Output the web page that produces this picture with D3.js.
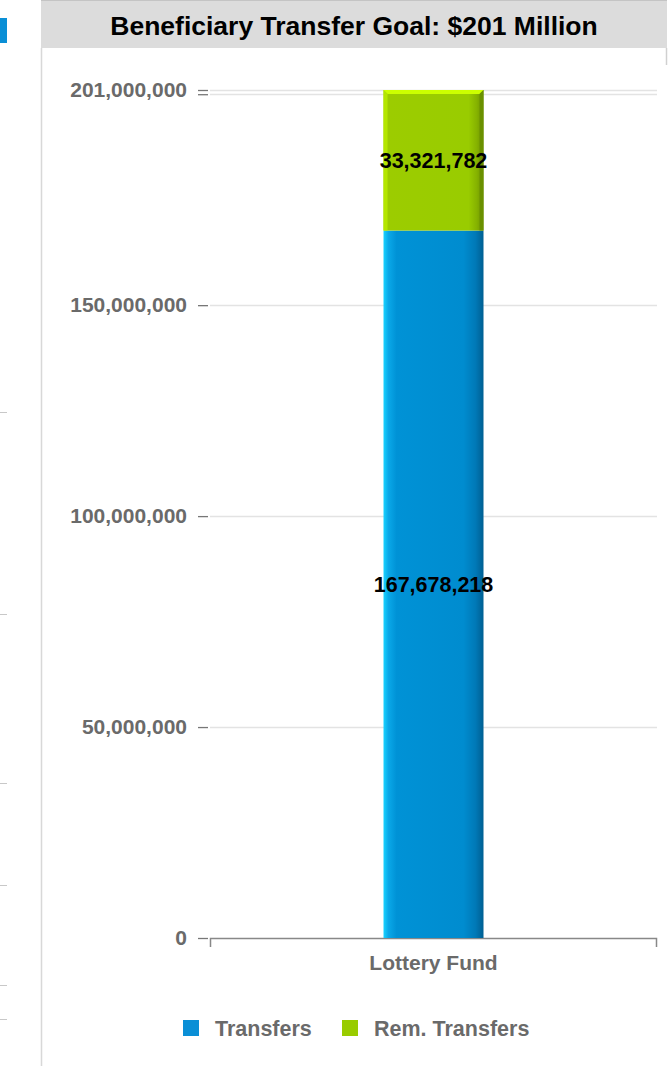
<!DOCTYPE html>
<html>
<head>
<meta charset="utf-8">
<script src="https://cdn.jsdelivr.net/npm/d3@7/dist/d3.min.js"></script>
<style>
  html, body { margin: 0; padding: 0; background: #fff; }
  svg { display: block; font-family: "Liberation Sans", Arial, sans-serif; }
</style>
</head>
<body>
<svg id="chart" width="670" height="1067"></svg>
<script>
// Data
const categories = ["Lottery Fund"];
const seriesNames = ["Transfers", "Rem. Transfers"];
const transfers = [167678218];
const remTransfers = [33321782];
const goal = 201000000;
const tickValues = [0, 50000000, 100000000, 150000000, 200000000, 201000000];
const labeledTicks = [0, 50000000, 100000000, 150000000, 201000000];
const titleText = "Beneficiary Transfer Goal: $201 Million";

const svg = d3.select("#chart");
const defs = svg.append("defs");
const FONT = "Liberation Sans, Arial, sans-serif";

// Panel frame & title bar
svg.append("rect").attr("x", 41).attr("y", 0).attr("width", 626).attr("height", 48).attr("fill", "#dcdcdc");
svg.append("line").attr("x1", 41).attr("x2", 667).attr("y1", 0.5).attr("y2", 0.5).attr("stroke", "#c4c4c4");
svg.append("line").attr("x1", 41.5).attr("x2", 41.5).attr("y1", 48).attr("y2", 1066).attr("stroke", "#d8d8d8").attr("stroke-width", 1.5);
svg.append("line").attr("x1", 666.5).attr("x2", 666.5).attr("y1", 48).attr("y2", 65).attr("stroke", "#d0d0d0").attr("stroke-width", 1.5);
svg.append("text").attr("x", 354).attr("y", 35).attr("text-anchor", "middle")
  .attr("font-size", 26.5).attr("font-weight", "bold").attr("fill", "#000").text(titleText);

// Neighbouring panel edge on the left
svg.append("rect").attr("x", 0).attr("y", 18).attr("width", 7).attr("height", 25).attr("fill", "#0a8fd6");
[412, 614, 783, 885, 985, 1019].forEach(y => {
  svg.append("line").attr("x1", 0).attr("x2", 7).attr("y1", y + 0.5).attr("y2", y + 0.5).attr("stroke", "#c8c8c8");
});

// Scales
const y = d3.scaleLinear().domain([0, goal]).range([938, 90]);
const x = d3.scaleBand().domain(categories).range([210, 657]).paddingInner(0).paddingOuter(0);
const barW = 100;

// Gridlines
svg.append("g").selectAll("line").data(tickValues.filter(d => d > 0)).join("line")
  .attr("x1", 210).attr("x2", 657)
  .attr("y1", d => Math.round(y(d)) + 0.5).attr("y2", d => Math.round(y(d)) + 0.5)
  .attr("stroke", "#e3e3e3").attr("stroke-width", 1.5);

// Y axis
const yAxis = d3.axisLeft(y).tickValues(tickValues).tickSize(10).tickPadding(11)
  .tickFormat(d => labeledTicks.includes(d) ? d3.format(",")(d) : "");
const gy = svg.append("g").attr("transform", "translate(208,0)").call(yAxis);
gy.select(".domain").remove();
gy.selectAll(".tick line").attr("stroke", "#777").attr("stroke-width", 1.3);
gy.selectAll(".tick text").attr("fill", "#6a6a6a").attr("font-size", 21).attr("font-weight", "bold")
  .attr("font-family", FONT);

// X axis
const xAxis = d3.axisBottom(x).tickSize(0).tickPadding(17);
const gx = svg.append("g").attr("transform", "translate(0,938)").call(xAxis);
gx.select(".domain").attr("stroke", "#888").attr("stroke-width", 1.5).attr("fill", "none")
  .attr("d", "M210.5,9V0.5H656.5V9");
gx.selectAll(".tick text").attr("fill", "#6a6a6a").attr("font-size", 21).attr("font-weight", "bold")
  .attr("font-family", FONT);

// Gradients for the bevelled bars
const blueGrad = defs.append("linearGradient").attr("id", "blueGrad").attr("x1", "0").attr("x2", "1").attr("y1", "0").attr("y2", "0");
[[0, "#18d2ff"], [0.05, "#0aa8e8"], [0.13, "#0092d6"], [0.8, "#008ccf"], [0.92, "#0079b7"], [1, "#005f92"]]
  .forEach(([o, c]) => blueGrad.append("stop").attr("offset", o).attr("stop-color", c));
const greenGrad = defs.append("linearGradient").attr("id", "greenGrad").attr("x1", "0").attr("x2", "1").attr("y1", "0").attr("y2", "0");
[[0, "#a8d800"], [0.05, "#9ccc00"], [0.85, "#99cc00"], [0.93, "#86b300"], [1, "#6e9400"]]
  .forEach(([o, c]) => greenGrad.append("stop").attr("offset", o).attr("stop-color", c));

// Stacked bars
const stackData = categories.map((c, i) => ({ cat: c, Transfers: transfers[i], "Rem. Transfers": remTransfers[i] }));
const stacked = d3.stack().keys(seriesNames)(stackData);
const fills = { "Transfers": "url(#blueGrad)", "Rem. Transfers": "url(#greenGrad)" };

const bars = svg.append("g");
const labels = svg.append("g");
stacked.forEach(layer => {
  layer.forEach(seg => {
    const cx = x(seg.data.cat) + x.bandwidth() / 2;
    const x0 = cx - barW / 2;
    const top = y(seg[1]), bot = y(seg[0]);
    bars.append("rect").attr("x", x0).attr("y", top).attr("width", barW).attr("height", bot - top)
      .attr("fill", fills[layer.key]);
    if (layer.key === "Rem. Transfers") {
      // bevel on the cap of the stack
      bars.append("path").attr("fill", "#ccff00")
        .attr("d", `M${x0},${top}H${x0 + barW}L${x0 + barW - 4},${top + 4}H${x0 + 4}Z`);
      bars.append("path").attr("fill", "#b4e600")
        .attr("d", `M${x0},${top}L${x0 + 4},${top + 4}V${bot}H${x0}Z`);
      bars.append("path").attr("fill", "#6a9000")
        .attr("d", `M${x0 + barW},${top}L${x0 + barW - 4},${top + 4}V${bot}H${x0 + barW}Z`);
    }
    const val = seg[1] - seg[0];
    labels.append("text").attr("x", cx).attr("y", (top + bot) / 2 + 8)
      .attr("text-anchor", "middle").attr("font-size", 21.5).attr("font-weight", "bold").attr("fill", "#000")
      .text(d3.format(",")(val));
  });
});

// Legend
const legendColors = { "Transfers": "#0a8fd6", "Rem. Transfers": "#99cc00" };
const legendX = [183, 342];
const lg = svg.append("g");
seriesNames.forEach((name, i) => {
  lg.append("rect").attr("x", legendX[i]).attr("y", 1020).attr("width", 16).attr("height", 16).attr("fill", legendColors[name]);
  lg.append("text").attr("x", legendX[i] + 32).attr("y", 1036).attr("font-size", 21.5).attr("font-weight", "bold")
    .attr("fill", "#6a6a6a").text(name);
});
</script>
</body>
</html>
